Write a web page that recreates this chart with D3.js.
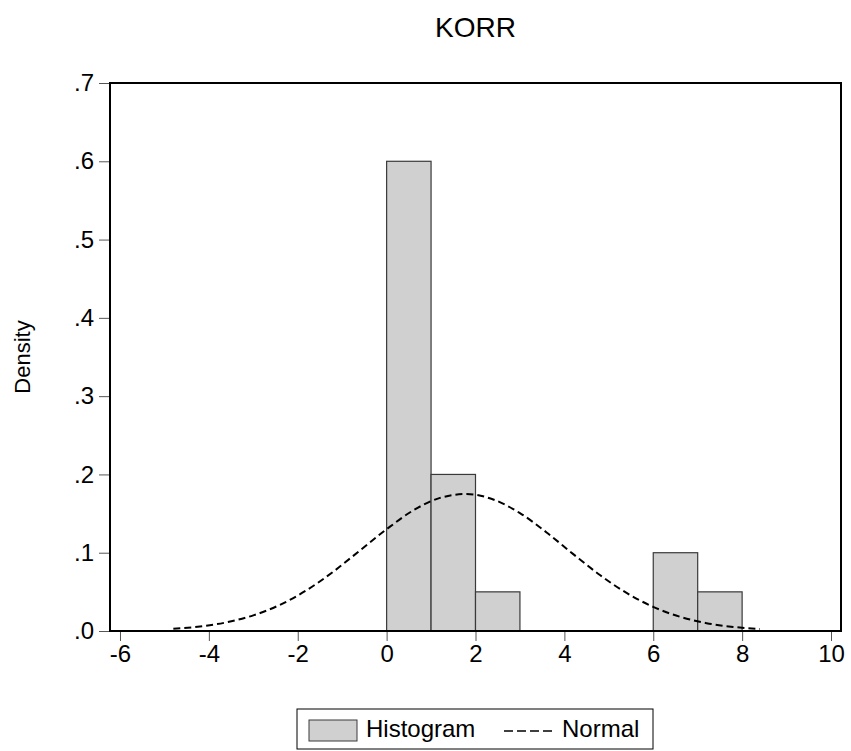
<!DOCTYPE html>
<html>
<head>
<meta charset="utf-8">
<script src="https://cdn.jsdelivr.net/npm/d3@7"></script>
<style>
  body { margin: 0; background: #fff; }
  text { font-family: "Liberation Sans", Arial, sans-serif; fill: #000; }
</style>
</head>
<body>
<svg id="chart" width="851" height="751"></svg>
<script>
// histogram bins (density)
var binStart = [0, 1, 2, 3, 4, 5, 6, 7];
var binEnd   = [1, 2, 3, 4, 5, 6, 7, 8];
var binDensity = [0.6, 0.2, 0.05, 0, 0, 0, 0.1, 0.05];

// normal curve
var normalX = [-4.8, -4.2, -3.6, -3.0, -2.4, -1.8, -1.2, -0.6, 0, 0.6, 1.2, 1.8,
               2.4, 3.0, 3.6, 4.2, 4.8, 5.4, 6.0, 6.6, 7.2, 7.8, 8.4];
var normalY = [0.0028, 0.0058, 0.0111, 0.0200, 0.0334, 0.0521, 0.0758, 0.1029, 0.130, 0.1541, 0.1700, 0.1750,
               0.1680, 0.1506, 0.1259, 0.0982, 0.0715, 0.0486, 0.0308, 0.0182, 0.0100, 0.0052, 0.0025];

// ticks
var xTicks = [-6, -4, -2, 0, 2, 4, 6, 8, 10];
var yTicks = [0, 0.1, 0.2, 0.3, 0.4, 0.5, 0.6, 0.7];

function drawChart()
{
  var svg = d3.select("#chart");
  var pLeft = 110, pRight = 841, pTop = 83, pBottom = 631;

  var x = d3.scaleLinear().domain([-6.225, 10.225]).range([pLeft, pRight]);
  var y = d3.scaleLinear().domain([0, 0.7]).range([pBottom, pTop]);

  // title
  svg.append("text")
    .attr("x", (pLeft + pRight) / 2).attr("y", 37)
    .attr("text-anchor", "middle")
    .style("font-size", "28px")
    .text("KORR");

  // y axis label
  svg.append("text")
    .attr("transform", "translate(30," + ((pTop + pBottom) / 2) + ") rotate(-90)")
    .attr("text-anchor", "middle")
    .style("font-size", "22px")
    .text("Density");

  // bars
  svg.selectAll("rect.bar")
    .data(binStart.map(function(d, i) { return {x0: d, x1: binEnd[i], v: binDensity[i]}; })
      .filter(function(d) { return d.v > 0; }))
    .enter().append("rect")
    .attr("class", "bar")
    .attr("x", function(d) { return x(d.x0); })
    .attr("width", function(d) { return x(d.x1) - x(d.x0); })
    .attr("y", function(d) { return y(d.v); })
    .attr("height", function(d) { return y(0) - y(d.v); })
    .attr("fill", "#d0d0d0")
    .attr("stroke", "#3a3a3a")
    .attr("stroke-width", 1.2);

  // normal curve
  var line = d3.line()
    .x(function(d) { return x(d[0]); })
    .y(function(d) { return y(d[1]); })
    .curve(d3.curveMonotoneX);

  svg.append("path")
    .datum(normalX.map(function(d, i) { return [d, normalY[i]]; }))
    .attr("d", line)
    .attr("fill", "none")
    .attr("stroke", "#000")
    .attr("stroke-width", 2)
    .attr("stroke-dasharray", "7,4");

  // axes
  var xAxis = d3.axisBottom(x).tickValues(xTicks).tickSize(10).tickPadding(4)
    .tickFormat(function(d) { return d; });
  var gx = svg.append("g").attr("transform", "translate(0," + pBottom + ")").call(xAxis);
  gx.select(".domain").remove();
  gx.selectAll("line").attr("stroke", "#555");
  gx.selectAll("text").style("font-size", "24px").attr("fill", "#000")
    .style("font-family", "Liberation Sans, Arial, sans-serif");

  var yAxis = d3.axisLeft(y).tickValues(yTicks).tickSize(11).tickPadding(5)
    .tickFormat(function(d) { return d3.format(".1f")(d).replace(/^0/, ""); });
  var gy = svg.append("g").attr("transform", "translate(" + pLeft + ",0)").call(yAxis);
  gy.select(".domain").remove();
  gy.selectAll("line").attr("stroke", "#555");
  gy.selectAll("text").style("font-size", "24px").attr("fill", "#000")
    .style("font-family", "Liberation Sans, Arial, sans-serif");

  // frame
  svg.append("rect")
    .attr("x", pLeft).attr("y", pTop)
    .attr("width", pRight - pLeft).attr("height", pBottom - pTop)
    .attr("fill", "none")
    .attr("stroke", "#000")
    .attr("stroke-width", 2);

  // legend
  var lg = svg.append("g");
  lg.append("rect")
    .attr("x", 297).attr("y", 709).attr("width", 356).attr("height", 40)
    .attr("fill", "#fff").attr("stroke", "#000").attr("stroke-width", 1);
  lg.append("rect")
    .attr("x", 309).attr("y", 720).attr("width", 48).attr("height", 21)
    .attr("fill", "#d0d0d0").attr("stroke", "#3a3a3a").attr("stroke-width", 1);
  lg.append("text")
    .attr("x", 366).attr("y", 737)
    .style("font-size", "24px")
    .text("Histogram");
  lg.append("line")
    .attr("x1", 504).attr("x2", 553).attr("y1", 731).attr("y2", 731)
    .attr("stroke", "#000").attr("stroke-width", 1.5)
    .attr("stroke-dasharray", "9,4");
  lg.append("text")
    .attr("x", 562).attr("y", 737)
    .style("font-size", "24px")
    .text("Normal");
}

drawChart();
</script>
</body>
</html>
